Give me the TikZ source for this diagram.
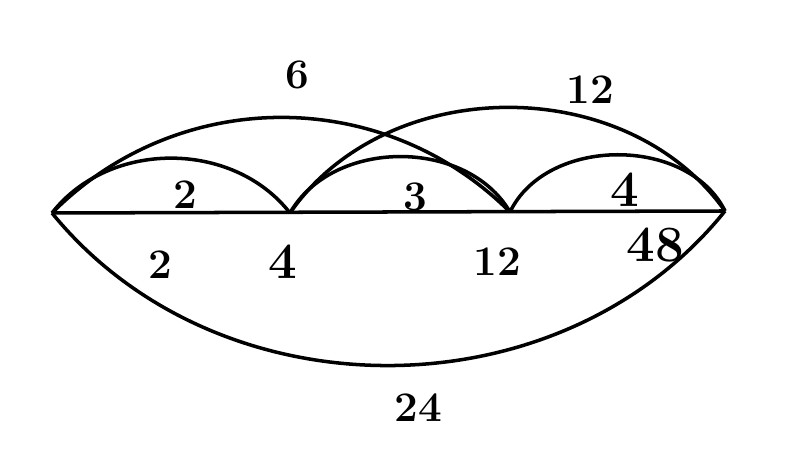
\documentclass[tikz,border=0pt]{standalone}
\usepackage{tikz}
\tikzset{arcline/.style={draw,line width=2pt},
         num/.style={font=\fontsize{24}{28}\selectfont\bfseries},
         bignum/.style={font=\fontsize{29}{32}\selectfont\bfseries}}

\begin{document}
\begin{tikzpicture}[x=0.02cm,y=0.02cm]
        \useasboundingbox (0,0) rectangle (790,475);
        \coordinate (a) at (52,262);
        \coordinate (b) at (290,262);
        \coordinate (c) at (510,263);
        \coordinate (d) at (725,264);

        \draw[arcline](a)--(d);
        \draw[arcline](a) to[bend left=52] (b);
        \draw[arcline](b) to[bend left=60] (c);
        \draw[arcline](c) to[bend left=64] (d);
        \draw[arcline](a) to[bend left=45] (c);
        \draw[arcline](b) to[bend left=55] (d);
        \draw[arcline](a) to[bend right=51] (d);

        \node[num](l6)at(297,400){6};
        \node[num](l12)at(590,385){12};
        \node[num](l2a)at(185,280){2};
        \node[num](l3)at(415,278){3};
        \node[bignum](l4a)at(625,285){4};
        \node[num](l2b)at(160,210){2};
        \node[bignum](l4b)at(283,213){4};
        \node[num](l12b)at(497,213){12};
        \node[bignum](l48)at(655,230){48};
        \node[num](l24)at(418,67){24};
    \end{tikzpicture}
\end{document}
